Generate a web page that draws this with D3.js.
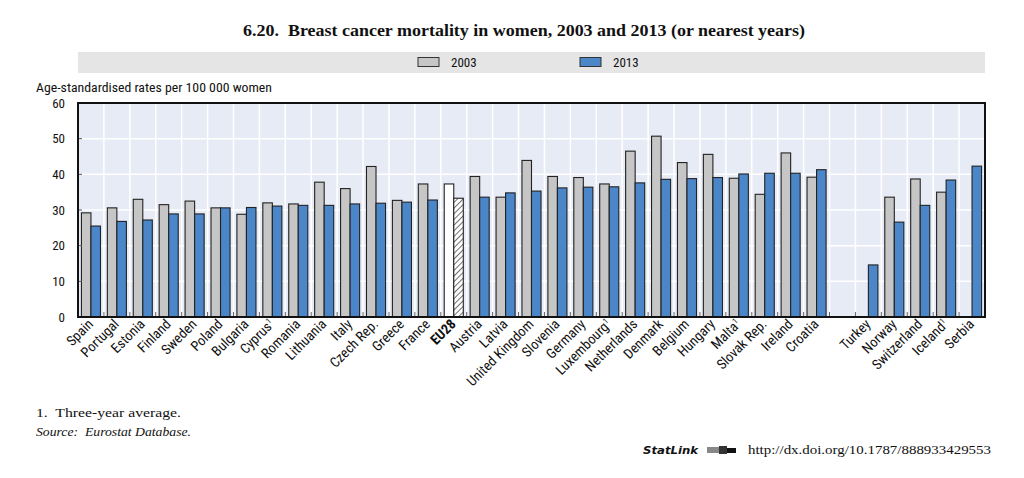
<!DOCTYPE html>
<html>
<head>
<meta charset="utf-8">
<script src="https://cdn.jsdelivr.net/npm/d3@7"></script>
<style>
  html, body { margin: 0; padding: 0; background: #fff; }
  svg { display: block; }
  .narrow { font-family: "Liberation Sans Narrow", "Arial Narrow", "Roboto Condensed", "Liberation Sans", sans-serif; }
  .serif { font-family: "Liberation Serif", "DejaVu Serif", serif; }
</style>
</head>
<body>
<svg id="chart" width="1024" height="478"></svg>
<script>
// ---- Data ----
const categories = ["Spain","Portugal","Estonia","Finland","Sweden","Poland","Bulgaria","Cyprus","Romania","Lithuania","Italy","Czech Rep.","Greece","France","EU28","Austria","Latvia","United Kingdom","Slovenia","Germany","Luxembourg","Netherlands","Denmark","Belgium","Hungary","Malta","Slovak Rep.","Ireland","Croatia","","Turkey","Norway","Switzerland","Iceland","Serbia"];
const footnoted = ["Cyprus","Luxembourg","Malta","Iceland"];
const highlighted = ["EU28"];
const seriesNames = ["2003","2013"];
const values2003 = [29.2,30.6,33.0,31.5,32.5,30.6,28.8,32.0,31.7,37.8,36.0,42.2,32.7,37.3,37.3,39.4,33.6,43.9,39.4,39.1,37.3,46.5,50.7,43.3,45.6,38.9,34.4,46.0,39.2,null,null,33.6,38.7,35.0,null];
const values2013 = [25.5,26.8,27.2,28.9,28.9,30.6,30.7,31.1,31.3,31.3,31.7,31.9,32.2,32.8,33.3,33.6,34.8,35.3,36.2,36.4,36.5,37.6,38.6,38.8,39.1,40.1,40.3,40.3,41.3,null,14.6,26.6,31.3,38.4,42.3];
const yTicks = [0,10,20,30,40,50,60];

// ---- Layout ----
const svg = d3.select("#chart");
const L = 78, R = 985, T = 103, B = 317;
const colors = { "2003": "#c6c6c6", "2013": "#4a86c8" };
const keys = categories.map((c, i) => i);

const x = d3.scaleBand().domain(keys).range([L, R]).paddingInner(0).paddingOuter(0);
const xs = d3.scaleBand().domain(seriesNames).range([0, x.bandwidth()]).paddingInner(0).paddingOuter(0.36);
const y = d3.scaleLinear().domain([0, 60]).range([B, T]);

// pattern for EU28 2013
const defs = svg.append("defs");
const pat = defs.append("pattern").attr("id", "hatch").attr("patternUnits", "userSpaceOnUse")
  .attr("width", 4).attr("height", 4).attr("patternTransform", "rotate(45)");
pat.append("rect").attr("width", 4).attr("height", 4).attr("fill", "#fff");
pat.append("line").attr("x1", 0).attr("y1", 0).attr("x2", 0).attr("y2", 4).attr("stroke", "#222").attr("stroke-width", 1.3);

// ---- Title ----
svg.append("text").attr("class", "serif").attr("x", 524).attr("y", 36)
  .attr("text-anchor", "middle").attr("font-weight", "bold").attr("font-size", 16.5)
  .attr("fill", "#111").attr("textLength", 562).attr("lengthAdjust", "spacingAndGlyphs")
  .text("6.20.\u00a0 Breast cancer mortality in women, 2003 and 2013 (or nearest years)");

// ---- Legend ----
svg.append("rect").attr("x", L).attr("y", 52).attr("width", R - L).attr("height", 21).attr("fill", "#e5e5e5");
const legX = { "2003": 418, "2013": 580 };
seriesNames.forEach(s => {
  svg.append("rect").attr("x", legX[s]).attr("y", 57.5).attr("width", 21).attr("height", 9)
    .attr("fill", colors[s]).attr("stroke", "#333").attr("stroke-width", 1);
  svg.append("text").attr("class", "narrow").attr("x", legX[s] + 33).attr("y", 67)
    .attr("font-size", 13).attr("fill", "#111").text(s);
});

// ---- Y axis label ----
svg.append("text").attr("class", "narrow").attr("x", 36).attr("y", 92)
  .attr("font-size", 13).attr("fill", "#111").attr("textLength", 236).attr("lengthAdjust", "spacingAndGlyphs")
  .text("Age-standardised rates per 100 000 women");

// ---- Plot background & grid ----
svg.append("rect").attr("x", L).attr("y", T).attr("width", R - L).attr("height", B - T).attr("fill", "#e7ebf6");
const grid = svg.append("g");
grid.selectAll("line.h").data(yTicks.filter(t => t > 0 && t < 60)).join("line")
  .attr("x1", L).attr("x2", R).attr("y1", d => y(d)).attr("y2", d => y(d))
  .attr("stroke", "#fff").attr("stroke-width", 1.5);
grid.selectAll("line.v").data(keys.slice(1)).join("line")
  .attr("x1", d => x(d)).attr("x2", d => x(d)).attr("y1", T).attr("y2", B)
  .attr("stroke", "#fff").attr("stroke-width", 1.5);

// ---- Bars ----
const rows = keys.map(i => ({ i, name: categories[i], v: { "2003": values2003[i], "2013": values2013[i] } }));
const groups = svg.append("g").selectAll("g").data(rows).join("g")
  .attr("transform", d => `translate(${x(d.i)},0)`);
groups.selectAll("rect").data(d => seriesNames.map(s => ({ s, v: d.v[s], name: d.name })).filter(e => e.v != null))
  .join("rect")
  .attr("x", e => xs(e.s)).attr("width", xs.bandwidth())
  .attr("y", e => y(e.v)).attr("height", e => B - y(e.v))
  .attr("fill", e => highlighted.includes(e.name) ? (e.s === "2003" ? "#ffffff" : "url(#hatch)") : colors[e.s])
  .attr("stroke", "#222").attr("stroke-width", 1.1);

// ---- Axis ticks inside ----
const yAxis = d3.axisLeft(y).tickValues(yTicks).tickSize(0).tickPadding(13);
const ya = svg.append("g").attr("transform", `translate(${L},0)`).call(yAxis);
ya.select(".domain").remove();
ya.selectAll("text").attr("class", "narrow").attr("font-size", 13).attr("fill", "#111").attr("font-family", null);
svg.append("g").selectAll("line").data(yTicks.filter(t => t > 0 && t < 60)).join("line")
  .attr("x1", L).attr("x2", L + 4).attr("y1", d => y(d)).attr("y2", d => y(d)).attr("stroke", "#555");
svg.append("g").selectAll("line").data(keys.slice(1)).join("line")
  .attr("x1", d => x(d)).attr("x2", d => x(d)).attr("y1", B).attr("y2", B - 5).attr("stroke", "#666");

// ---- Frame ----
svg.append("rect").attr("x", L).attr("y", T).attr("width", R - L).attr("height", B - T)
  .attr("fill", "none").attr("stroke", "#111").attr("stroke-width", 2);

// ---- X labels ----
const xl = svg.append("g");
rows.filter(d => d.name !== "").forEach(d => {
  const cx = x(d.i) + x.bandwidth() / 2 + 3;
  const t = xl.append("text").attr("class", "narrow")
    .attr("transform", `translate(${cx},${B + 8}) rotate(-45)`)
    .attr("text-anchor", "end").attr("font-size", 14).attr("fill", "#111")
    .attr("font-weight", highlighted.includes(d.name) ? "bold" : null);
  t.append("tspan").text(d.name);
  if (footnoted.includes(d.name)) {
    t.append("tspan").attr("font-size", 8).attr("dy", -5).text("1");
  }
});

// ---- Footer ----
svg.append("text").attr("class", "serif").attr("x", 36).attr("y", 417).attr("font-size", 13.5).attr("fill", "#111")
  .attr("textLength", 145).attr("lengthAdjust", "spacingAndGlyphs")
  .text("1.\u00a0 Three-year average.");
svg.append("text").attr("class", "serif").attr("x", 36).attr("y", 436).attr("font-size", 13.5)
  .attr("fill", "#111").attr("font-style", "italic")
  .attr("textLength", 155).attr("lengthAdjust", "spacingAndGlyphs")
  .text("Source:\u00a0 Eurostat Database.");

svg.append("text").attr("x", 643).attr("y", 454).attr("font-family", "DejaVu Sans, sans-serif")
  .attr("font-weight", "bold").attr("font-style", "italic").attr("font-size", 11).attr("fill", "#111")
  .attr("textLength", 55).attr("lengthAdjust", "spacingAndGlyphs").text("StatLink");
const icon = svg.append("g").attr("transform", "translate(707,446)");
icon.append("rect").attr("x", 0).attr("y", 1).attr("width", 12).attr("height", 6).attr("fill", "#888");
icon.append("rect").attr("x", 12).attr("y", 0).attr("width", 8).attr("height", 8).attr("fill", "#333");
icon.append("rect").attr("x", 20).attr("y", 2).attr("width", 9).attr("height", 5).attr("fill", "#111");
svg.append("text").attr("class", "serif").attr("x", 748).attr("y", 454).attr("font-size", 13.5).attr("fill", "#111")
  .attr("textLength", 243).attr("lengthAdjust", "spacingAndGlyphs").text("http://dx.doi.org/10.1787/888933429553");
</script>
</body>
</html>
